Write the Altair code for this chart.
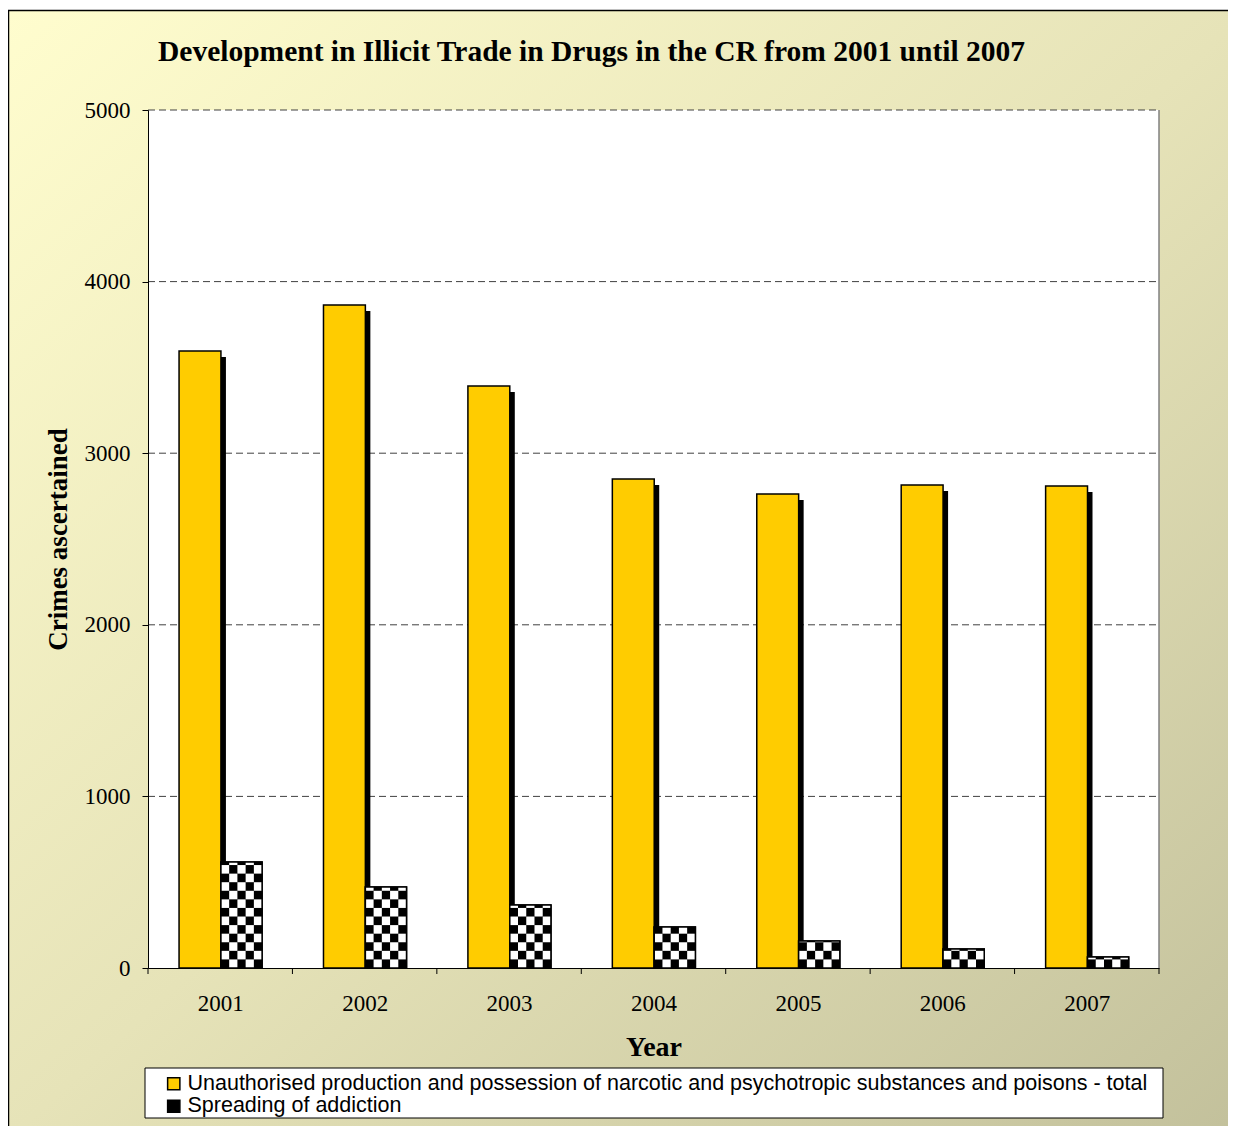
import altair as alt
import pandas as pd
import math

years = ["2001", "2002", "2003", "2004", "2005", "2006", "2007"]
series_names = [
    "Unauthorised production and possession of narcotic and psychotropic substances and poisons - total",
    "Spreading of addiction",
]
production_total = [3596, 3864, 3392, 2850, 2762, 2815, 2809]
spreading_addiction = [618, 472, 367, 239, 157, 111, 64]
y_ticks = [0, 1000, 2000, 3000, 4000, 5000]
title_text = "Development in Illicit Trade in Drugs in the CR from 2001 until 2007"

W, H = 1011, 858
SERIF = "Liberation Serif"
SANS = "Liberation Sans"

# bar table
rows = []
for i, y in enumerate(years):
    rows.append({"idx": i, "year": y, "series": series_names[0], "value": production_total[i],
                 "x0": i + 0.215, "x1": i + 0.505})
    rows.append({"idx": i, "year": y, "series": series_names[1], "value": spreading_addiction[i],
                 "x0": i + 0.505, "x1": i + 0.79})
bars = pd.DataFrame(rows)

# checker cells for the second series
cell_v = 50.0
ncols = 5
cells = []
for i, v in enumerate(spreading_addiction):
    x0, x1 = i + 0.505, i + 0.79
    w = (x1 - x0) / ncols
    nrows = int(math.ceil(v / cell_v))
    for r in range(nrows):
        for c in range(ncols):
            if (r + c) % 2 == 1:
                cells.append({"cx0": x0 + c * w, "cx1": x0 + (c + 1) * w,
                              "cy0": r * cell_v, "cy1": min((r + 1) * cell_v, v)})
cells = pd.DataFrame(cells)

one = pd.DataFrame({"k": [0]})
xscale = alt.Scale(domain=[0, len(years)], nice=False, zero=False)
yscale = alt.Scale(domain=[0, 5000], nice=False)

x_axis = alt.Axis(values=[i + 0.5 for i in range(len(years))],
                  labelExpr="[" + ",".join("'" + y + "'" for y in years) + "][floor(datum.value)]",
                  ticks=False, domain=True, domainColor="black", domainWidth=1,
                  grid=False, labelFont=SERIF, labelFontSize=23, labelColor="black",
                  labelPadding=24, title="Year", titleFont=SERIF, titleFontSize=28,
                  titleFontWeight="bold", titleColor="black", titlePadding=18, zindex=2)
y_axis = alt.Axis(values=y_ticks, format="d", tickSize=6, tickColor="black", domainColor="black",
                  grid=False, labelFont=SERIF, labelFontSize=23, labelColor="black",
                  labelPadding=12, title="Crimes  ascertained", titleFont=SERIF,
                  titleFontSize=27, titleFontWeight="bold", titleColor="black",
                  titlePadding=12, zindex=2)

grad = alt.LinearGradient(
    gradient="linear", x1=0, y1=0, x2=1, y2=1,
    stops=[alt.GradientStop(color="#FFFDCE", offset=0),
           alt.GradientStop(color="#E6E3B8", offset=0.5),
           alt.GradientStop(color="#C2C09B", offset=1)],
)

background = alt.Chart(one).mark_rect(fill=grad, stroke="black", strokeWidth=1.5).encode(
    x=alt.value(-139.5), x2=alt.value(W + 90), y=alt.value(-99.5), y2=alt.value(H + 170)
)
plot_bg = alt.Chart(one).mark_rect(fill="white").encode(
    x=alt.value(0), x2=alt.value(W), y=alt.value(0), y2=alt.value(H)
)
right_edge = alt.Chart(one).mark_rule(color="#808080", strokeWidth=1.5).encode(
    x=alt.value(W), y=alt.value(0), y2=alt.value(H)
)
title_mark = alt.Chart(one).mark_text(
    text=title_text, font=SERIF, fontSize=29.5, fontWeight="bold", color="black",
    align="left", baseline="alphabetic"
).encode(x=alt.value(10), y=alt.value(-49))

grid = alt.Chart(pd.DataFrame({"t": y_ticks[1:]})).mark_rule(
    color="#404040", strokeWidth=1, strokeDash=[7, 4]
).encode(
    y=alt.Y("t:Q", scale=yscale, axis=y_axis), x=alt.value(0), x2=alt.value(W)
)

shadow = alt.Chart(bars[bars["series"] == series_names[0]]).transform_calculate(
    top="datum.value - 35"
).mark_rect(fill="black", xOffset=5, x2Offset=5).encode(
    x=alt.X("x0:Q", scale=xscale, axis=x_axis), x2="x1:Q",
    y=alt.Y("top:Q", scale=yscale, axis=y_axis), y2=alt.datum(0),
)

main = alt.Chart(bars).mark_bar(stroke="black", strokeWidth=1.5).encode(
    x=alt.X("x0:Q", scale=xscale, axis=x_axis),
    x2="x1:Q",
    y=alt.Y("value:Q", scale=yscale, axis=y_axis),
    y2=alt.datum(0),
    color=alt.Color("series:N", scale=alt.Scale(domain=series_names, range=["#FFCC00", "black"]),
                    legend=alt.Legend(orient="none", legendX=15, legendY=963, title=None,
                                      symbolType="square", symbolSize=150,
                                      symbolStrokeColor="black", symbolStrokeWidth=1.5,
                                      labelFont=SANS, labelFontSize=21.5, labelColor="black",
                                      labelLimit=0, rowPadding=-0.5, labelOffset=3, padding=0)),
)

checker = alt.Chart(cells).mark_rect(fill="white").encode(
    x=alt.X("cx0:Q", scale=xscale, axis=x_axis), x2="cx1:Q",
    y=alt.Y("cy0:Q", scale=yscale, axis=y_axis), y2="cy1:Q",
)

outline = alt.Chart(bars[bars["series"] == series_names[1]]).mark_bar(
    fillOpacity=0, stroke="black", strokeWidth=1.5
).encode(
    x=alt.X("x0:Q", scale=xscale, axis=x_axis), x2="x1:Q",
    y=alt.Y("value:Q", scale=yscale, axis=y_axis), y2=alt.datum(0),
)

xticks = alt.Chart(pd.DataFrame({"b": list(range(len(years) + 1))})).mark_rule(
    color="black", strokeWidth=1
).encode(
    x=alt.X("b:Q", scale=xscale, axis=x_axis), y=alt.value(H), y2=alt.value(H + 6)
)

legend_box = alt.Chart(one).mark_rect(fill="white", stroke="black", strokeWidth=1).encode(
    x=alt.value(-3), x2=alt.value(1015), y=alt.value(958), y2=alt.value(1008)
)

chart = alt.layer(
    background, plot_bg, right_edge, grid, legend_box, title_mark, shadow, main, checker, outline, xticks
).properties(
    width=W, height=H,
    padding={"left": 140, "top": 102, "right": 69, "bottom": 158},
    autosize=alt.AutoSizeParams(type="none"),
).configure_view(stroke=None).configure(background="white")

chart.save("out.html", embed_options={"renderer": "svg", "actions": False})
